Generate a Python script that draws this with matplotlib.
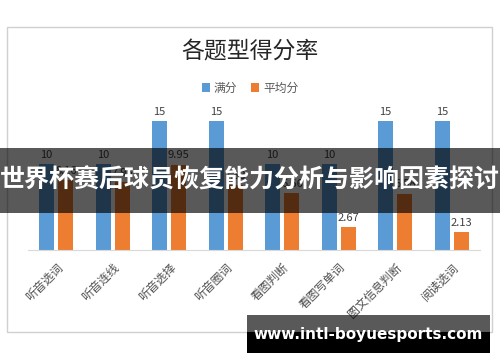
import matplotlib

matplotlib.use("Agg")

import matplotlib.pyplot as plt  # noqa: E402
import numpy as np  # noqa: E402
from matplotlib.patches import Rectangle  # noqa: E402

plt.rcParams["font.family"] = ["Noto Sans CJK SC", "DejaVu Sans"]

categories = ["听音选词", "听音连线", "听音选择", "听音圈词",
              "看图判断", "看图写单词", "图文信息判断", "阅读选词"]
full_marks = [10, 10, 15, 15, 10, 10, 15, 15]
avg_marks = [8.16, 7.95, 9.95, 7.53, 6.66, 2.67, 6.58, 2.13]
series_names = ["满分", "平均分"]
title = "各题型得分率"
banner_text = "世界杯赛后球员恢复能力分析与影响因素探讨"
site_text = "www.intl-boyuesports.com"

BLUE = "#5b9bd5"
ORANGE = "#ed7d31"

W, H = 500, 362
fig = plt.figure(figsize=(W / 100, H / 100), dpi=100)
fig.patch.set_facecolor("white")


def px(x0, y0, x1, y1):
    """pixel box (top-left origin) -> figure-fraction rect"""
    return [x0 / W, 1 - y1 / H, (x1 - x0) / W, (y1 - y0) / H]


# outer chart border
fig.patches.append(Rectangle((7 / W, 1 - 332 / H), 485 / W, 305 / H,
                             transform=fig.transFigure, fill=False,
                             edgecolor="#d0d0d0", linewidth=1.0, zorder=1))

ax = fig.add_axes(px(28, 105, 480, 250))
x = np.arange(len(categories))
bw = 0.265
b1 = ax.bar(x - 0.17, full_marks, bw, color=BLUE, label=series_names[0])
b2 = ax.bar(x + 0.17, avg_marks, bw, color=ORANGE, label=series_names[1])
ax.bar_label(b1, labels=[str(v) for v in full_marks], padding=3,
             fontsize=8, color="#404040")
ax.bar_label(b2, labels=[f"{v:.2f}" for v in avg_marks], padding=3,
             fontsize=8, color="#404040")

ax.set_xlim(-0.5, len(categories) - 0.5)
ax.set_ylim(0, 16.9)
ax.set_yticks([])
for s in ["top", "right", "left"]:
    ax.spines[s].set_visible(False)
ax.spines["bottom"].set_color("#d9d9d9")
ax.set_xticks(x)
ax.set_xticklabels(categories, rotation=45, ha="right", va="top",
                   rotation_mode="anchor", fontsize=8.5, color="#505050")
ax.tick_params(axis="x", length=0, pad=8)
ax.set_facecolor("none")

fig.text(0.5, 1 - 52 / H, title, ha="center", va="center",
         fontsize=16.5, fontweight="medium", color="#262626")
fig.legend(handles=[b1, b2], labels=series_names, loc="center",
           bbox_to_anchor=(0.5, 1 - 88 / H), ncol=2, frameon=False,
           fontsize=8.5, handlelength=0.7, handleheight=0.7,
           handletextpad=0.3, columnspacing=1.2, labelcolor="#595959")

# overlay banner across the middle
fig.patches.append(Rectangle((0, 1 - 213 / H), 1, 65 / H,
                             transform=fig.transFigure, facecolor="black",
                             alpha=0.65, edgecolor="none", zorder=10))
fig.text(0.5, 1 - 181 / H, banner_text, ha="center", va="center",
         fontsize=18, fontweight="bold", color="white", zorder=11)

# site watermark bottom right
fig.patches.append(Rectangle((247 / W, 1 - 332 / H), 243 / W, 17 / H,
                             transform=fig.transFigure, facecolor="black",
                             alpha=0.65, edgecolor="none", zorder=10))
fig.patches.append(Rectangle((247 / W, 1 - 353 / H), 243 / W, 21 / H,
                             transform=fig.transFigure, facecolor="black",
                             edgecolor="none", zorder=10))
fig.text(368 / W, 1 - 334 / H, site_text, ha="center", va="center",
         fontsize=11, fontweight="bold", color="white",
         family="DejaVu Sans", zorder=11)

fig.savefig("out.png", dpi=100)
